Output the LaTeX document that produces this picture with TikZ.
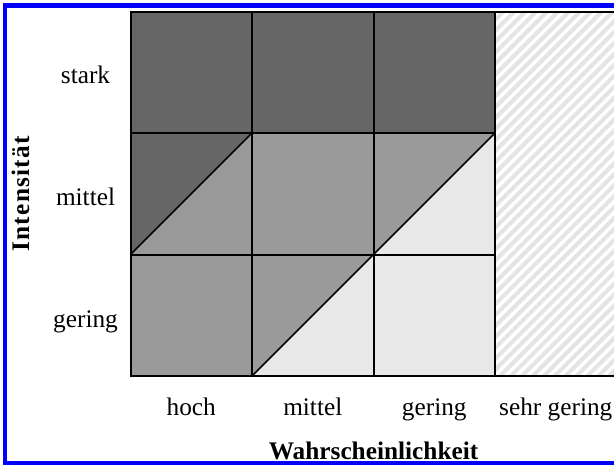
\documentclass[tikz,border=0pt]{standalone}
\usepackage{fontspec}
\setmainfont{Liberation Serif}
\definecolor{RiskHigh}{RGB}{102,102,102}
\definecolor{RiskMid}{RGB}{154,154,154}
\definecolor{RiskLow}{RGB}{232,232,232}
\definecolor{HatchCol}{RGB}{228,228,228}
\definecolor{FrameCol}{RGB}{0,0,250}
\tikzset{
  rmgrid/.style={line width=2pt, draw=black, line cap=rect},
  rmdiag/.style={line width=1.6pt, draw=black},
  rmframe/.style={line width=4.5pt, draw=FrameCol},
  rmhatch/.style={line width=4pt, draw=HatchCol},
  rmlab/.style={font=\fontsize{25.3}{28}\selectfont, inner sep=0pt, anchor=base},
  rmtitle/.style={font=\fontsize{25.3}{28}\selectfont\bfseries, inner sep=0pt}
}
% one cell, split along its rising diagonal: #3 upper left, #4 lower right
\newcommand{\RMSplit}[4]{%
  \fill[#3] (#1,#2) -- ++(1,1) -- ++(-1,0) -- cycle;
  \fill[#4] (#1,#2) -- ++(1,0) -- ++(0,1) -- cycle;
  \draw[rmdiag] (#1,#2) -- ++(1,1);
}

\begin{document}
\begin{tikzpicture}[x=121.5pt,y=121.5pt]
  \useasboundingbox (-1.074,-0.724) rectangle (3.979,3.095);
  \fill[white] (-1.074,-0.724) rectangle (3.979,3.095);
  % cells
  \foreach \c in {0,1,2} \fill[RiskHigh] (\c,2) rectangle ++(1,1);
  \fill[RiskMid] (1,1) rectangle ++(1,1);
  \fill[RiskMid] (0,0) rectangle ++(1,1);
  \fill[RiskLow] (2,0) rectangle ++(1,1);
  \RMSplit{0}{1}{RiskHigh}{RiskMid}
  \RMSplit{2}{1}{RiskMid}{RiskLow}
  \RMSplit{1}{0}{RiskMid}{RiskLow}
  % hatched column
  \begin{scope}
    \clip (3,0) rectangle (4.2,3);
    \foreach \s in {-3.2,-3.11,...,1.3} \draw[rmhatch] (3+\s,0) -- ++(3,3);
  \end{scope}
  % grid
  \foreach \c in {0,1,2,3} \draw[rmgrid] (\c,0) -- (\c,3);
  \foreach \r in {1,2} \draw[rmgrid] (0,\r) -- (3,\r);
  \draw[rmgrid] (0,0) -- (4.3,0);
  \draw[rmgrid] (0,3) -- (4.3,3);
  % labels
  \node[rmlab] (stark) at (-0.37,2.409) {stark};
  \node[rmlab] (mittelI) at (-0.37,1.402) {mittel};
  \node[rmlab] (geringI) at (-0.37,0.400) {gering};
  \node[rmlab] (hoch) at (0.5,-0.321) {hoch};
  \node[rmlab] (mittelW) at (1.5,-0.321) {mittel};
  \node[rmlab] (geringW) at (2.5,-0.321) {gering};
  \node[rmlab] (sehr) at (3.5,-0.321) {sehr gering};
  \node[rmtitle, anchor=base] (wahr) at (2,-0.688) {Wahrscheinlichkeit};
  \node[rmtitle, rotate=90] (int) at (-0.905,1.5) {\addfontfeatures{LetterSpace=5}Intensität};
  % frame
  \draw[rmframe] (4.3,3.051) -- (-1.033,3.051) -- (-1.033,-0.716) -- (4.3,-0.716);
\end{tikzpicture}
\end{document}
